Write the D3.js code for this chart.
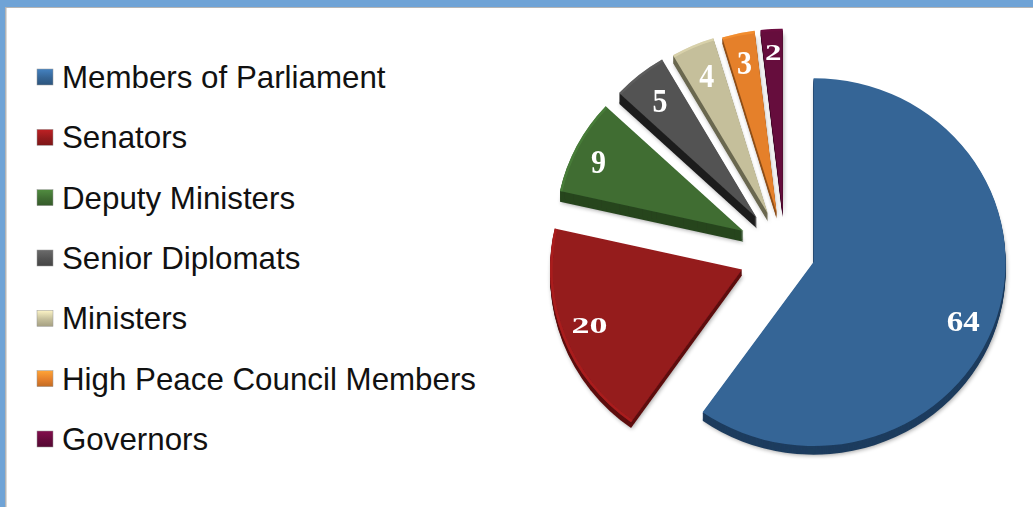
<!DOCTYPE html>
<html>
<head>
<meta charset="utf-8">
<script src="https://cdnjs.cloudflare.com/ajax/libs/d3/7.8.5/d3.min.js"></script>
<style>
html, body { margin: 0; padding: 0; background: #fff; overflow: hidden; }
svg { display: block; }
</style>
</head>
<body>
<div id="chart"></div>
<script>
var categories = ["Members of Parliament", "Senators", "Deputy Ministers", "Senior Diplomats", "Ministers", "High Peace Council Members", "Governors"];
var values = [64, 20, 9, 5, 4, 3, 2];
var palette = ["#356596", "#951a1c", "#3f6d32", "#535353", "#c5bf9b", "#e5802b", "#660a3c"];
var wallColors = ["#1d3c5e", "#5e1012", "#27451f", "#1e1e1e", "#6b6850", "#8f4f1a", "#3c0623"];

// per slice look: pull out of the pie, wall height, radius, vertical squash
var explode = [30, 46, 47, 45, 43, 41, 41];
var depth = [9, 6, 11, 11, 8, 6, 5];
var radii = [192, 192, 188, 188, 188, 188, 188];
var squash = [0.958, 0.975, 0.975, 0.975, 0.975, 0.975, 0.975];
var rimOpacity = [0, 0.7, 0.7, 0.5, 0.5, 0.5, 0.3];

// label tweaks, the original font had old style digits
var labelShift = [[-1, 13], [-5, 0], [-5, 2], [2, 3], [2, 3], [0, 0], [0, -6]];
var labelStretch = [[1.1, 1], [1.2, 0.8], [1, 1.1], [1, 1.1], [1, 1.1], [1, 1.1], [1.1, 0.75]];

var width = 1033, height = 507;
var cx = 785, cy = 253;

var svg = d3.select("#chart").append("svg")
    .attr("width", width)
    .attr("height", height)
    .style("background", "#fff");

var defs = svg.append("defs");

defs.append("filter")
    .attr("id", "shadow")
    .attr("x", "-20%").attr("y", "-20%").attr("width", "140%").attr("height", "140%")
    .append("feGaussianBlur")
    .attr("stdDeviation", 2);

defs.append("filter")
    .attr("id", "soft")
    .append("feGaussianBlur")
    .attr("stdDeviation", 0.4);

// window frame
svg.append("rect").attr("width", width).attr("height", 7).attr("fill", "#6fa3d6");
svg.append("rect").attr("width", 5).attr("height", height).attr("fill", "#6fa3d6");
svg.append("rect").attr("x", 5).attr("y", 7).attr("width", width).attr("height", 1).attr("fill", "#b4b4b4");
svg.append("rect").attr("x", 5).attr("y", 7).attr("width", 1.5).attr("height", height).attr("fill", "#b4b4b4");

// legend
var legendY = d3.scalePoint()
    .domain(categories)
    .range([77, 439]);

palette.forEach(function(c, i){
    var grad = defs.append("linearGradient")
        .attr("id", "swatch" + i)
        .attr("x1", 0).attr("y1", 0).attr("x2", 0).attr("y2", 1);
    grad.append("stop").attr("offset", "0%").attr("stop-color", d3.color(c).brighter(0.7));
    grad.append("stop").attr("offset", "55%").attr("stop-color", c);
    grad.append("stop").attr("offset", "100%").attr("stop-color", d3.color(c).darker(0.5));
});

var legend = svg.append("g").attr("class", "legend");

legend.selectAll("rect")
    .data(categories)
    .enter()
    .append("rect")
    .attr("x", 37)
    .attr("y", function(d){ return legendY(d) - 8; })
    .attr("width", 16)
    .attr("height", 16)
    .attr("fill", function(d, i){ return "url(#swatch" + i + ")"; })
    .attr("stroke", "#999")
    .attr("stroke-width", 0.5);

legend.selectAll("text")
    .data(categories)
    .enter()
    .append("text")
    .attr("x", 62)
    .attr("y", function(d){ return legendY(d) + 11; })
    .attr("font-family", "'Liberation Sans', Arial, sans-serif")
    .attr("font-size", 31.3)
    .attr("fill", "#111")
    .text(function(d){ return d; });

// pie
var pie = d3.pie().sort(null);
var arcs = pie(values);
var arc = d3.arc().innerRadius(0).outerRadius(function(d){ return radii[d.index]; });
var rim = d3.arc().innerRadius(function(d){ return radii[d.index] - 2.5; }).outerRadius(function(d){ return radii[d.index]; });
var labelArc = d3.arc().innerRadius(158).outerRadius(158);

var slices = svg.append("g")
    .attr("filter", "url(#soft)")
    .selectAll("g")
    .data(arcs)
    .enter()
    .append("g")
    .attr("transform", function(d, i){
        var mid = (d.startAngle + d.endAngle) / 2;
        var x = cx + explode[i] * Math.sin(mid);
        var y = cy - explode[i] * Math.cos(mid);
        return "translate(" + x + "," + y + ") scale(1," + squash[i] + ")";
    });

// soft shadow under each slice
slices.append("path")
    .attr("d", arc)
    .attr("transform", function(d, i){ return "translate(1," + (depth[i] + 1) + ")"; })
    .attr("fill", "#000")
    .attr("opacity", 0.35)
    .attr("filter", "url(#shadow)");

// side wall, stacked copies of the slice
slices.each(function(d, i){
    var g = d3.select(this);
    d3.range(depth[i], 0, -1).forEach(function(k){
        g.append("path")
            .attr("d", arc(d))
            .attr("transform", "translate(0," + k + ")")
            .attr("fill", wallColors[i]);
    });
});

// top face
slices.append("path")
    .attr("d", arc)
    .attr("fill", function(d, i){ return palette[i]; });

slices.append("path")
    .attr("d", rim)
    .attr("fill", function(d, i){ return d3.color(palette[i]).brighter(0.5); })
    .attr("opacity", function(d, i){ return rimOpacity[i]; });

slices.append("text")
    .attr("transform", function(d, i){
        var p = labelArc.centroid(d);
        return "translate(" + (p[0] + labelShift[i][0]) + "," + (p[1] + labelShift[i][1]) + ")"
            + " scale(" + labelStretch[i][0] + "," + (labelStretch[i][1] / squash[i]) + ")";
    })
    .attr("text-anchor", "middle")
    .attr("dy", "0.35em")
    .attr("font-family", "'Liberation Serif', 'DejaVu Serif', serif")
    .attr("font-weight", "bold")
    .attr("font-size", 30)
    .attr("fill", "#fff")
    .text(function(d){ return d.value; });
</script>
</body>
</html>
